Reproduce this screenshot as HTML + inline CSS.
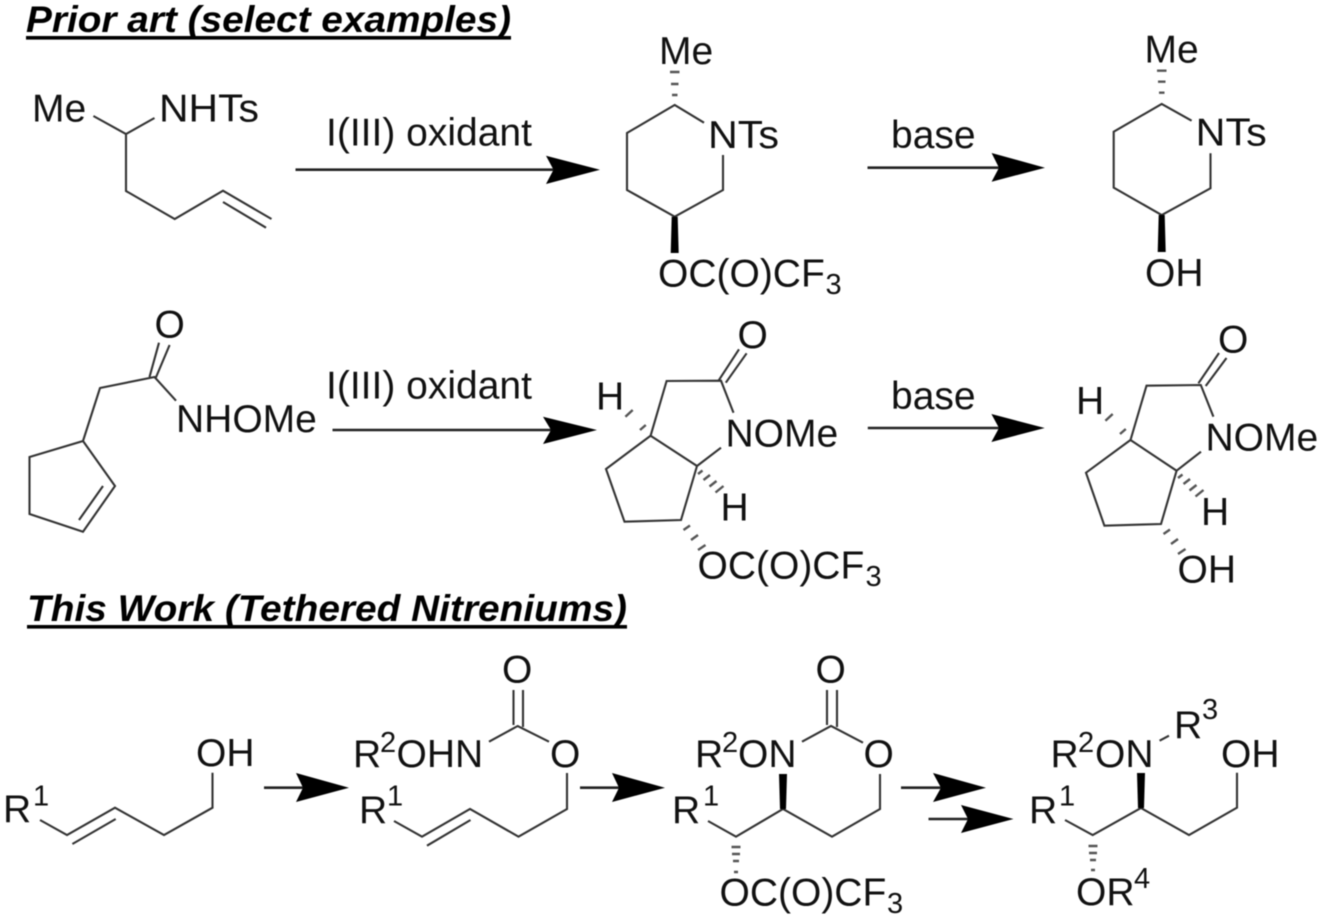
<!DOCTYPE html>
<html><head><meta charset="utf-8"><style>
html,body{margin:0;padding:0;background:#fff}
svg{display:block;filter:blur(.45px)}
text{font-family:"Liberation Sans",sans-serif;font-size:39px;fill:#111}
.h{font-weight:bold;font-style:italic;font-size:37.5px;fill:#000}
.s{font-size:29px}
path{fill:none;stroke:#333;stroke-width:2.1;stroke-linecap:butt;stroke-linejoin:miter}
.a{stroke:#222;stroke-width:2.6}
.t{fill:#000;stroke:none}
.d{stroke:#555;stroke-width:2.4}
</style></head><body>
<svg width="1320" height="921" viewBox="0 0 1320 921" xmlns="http://www.w3.org/2000/svg">
<!-- headings -->
<text class="h" x="26" y="32" textLength="485" lengthAdjust="spacingAndGlyphs">Prior art (select examples)</text>
<rect x="26" y="36" width="485" height="3.6" fill="#000"/>
<text class="h" x="27" y="621" textLength="600" lengthAdjust="spacingAndGlyphs">This Work (Tethered Nitreniums)</text>
<rect x="27" y="625" width="600" height="3.6" fill="#000"/>

<!-- row 1 SM -->
<text x="32" y="121.7">Me</text><text x="159" y="121.7" textLength="100" lengthAdjust="spacingAndGlyphs">NHTs</text>
<path d="M93.4 116L126 134L154.5 118M126 134V191L174.7 219L223 190.7L271.500 219M223 202L266 227.700"/>
<!-- arrow 1 -->
<text x="326" y="145.7">I(III) oxidant</text>
<path class="a" d="M295.500 169.700H556"/><polygon class="t" points="600,169.700 546,155.700 553.500,169.700 546,184"/>
<!-- product 1 -->
<text x="659" y="64">Me</text>
<path class="d" d="M670 72h9.500M671 84h7.500M672 95h5.500"/>
<path d="M704 122.700L674.700 105L627 133V190L674.700 216.700L723 190V155"/>
<text x="708" y="148" textLength="71" lengthAdjust="spacingAndGlyphs">NTs</text>
<polygon class="t" points="671.700,216.700 677.700,216.700 678.700,253 670.700,253"/>
<text x="658" y="286.700">OC(O)CF</text><text class="s" x="825.500" y="294">3</text>
<!-- arrow 2 -->
<text x="891" y="148">base</text>
<path class="a" d="M867.500 167.700H1000"/><polygon class="t" points="1045,167.700 991.600,153 999,167.700 991.600,181.700"/>
<!-- product 2 -->
<text x="1144.500" y="62.700">Me</text>
<path class="d" d="M1157 70.700h9.500M1158 81.700h7.500M1159 92.700h5.500"/>
<path d="M1191.600 120.700L1161.700 104L1113.700 131.700V187.700L1161.700 215L1210.500 188.300V153.300"/>
<text x="1195.700" y="145.700" textLength="71" lengthAdjust="spacingAndGlyphs">NTs</text>
<polygon class="t" points="1158.700,215 1164.700,215 1165.700,252 1157.700,252"/>
<text x="1145" y="286">OH</text>

<!-- row 2 SM -->
<text x="154.500" y="337.300">O</text>
<path d="M149.500 377L159 342.700M155.700 378L169.600 345M100 388L154.500 377L176 400.700M154.500 377L100 388L83 441L29.500 457V514L83 531.700L115 486L83 441M79 520L103 486"/>
<text x="176" y="432">NHOMe</text>
<!-- arrow -->
<text x="326" y="398.700">I(III) oxidant</text>
<path class="a" d="M332.500 430H555"/><polygon class="t" points="597,430 543,416.700 551,430 543,444"/>
<!-- product bicycle -->
<text x="737.500" y="348">O</text>
<path d="M718.500 380.700L739 349.300M725.800 382.700L746.600 353.300M733.500 412.700L721 380.700L666.600 381L650.600 435.700L606 469L624.500 521.700L681 520L697 466L650.600 435.700M697 466L721 447.700"/>
<text x="725.500" y="446.700">NOMe</text>
<text x="596" y="409.300">H</text>
<text x="720.500" y="520.700">H</text>
<path class="d" d="M640 430l5.800-5M625.400 416.700l7.300-6.700M698 474l4.500-3.500M703.500 480l6.500-5M709.500 486.500l7-5.500M715.500 492.500l8-6.500M683.500 530l6.500-4.500M691 540l7-5M698 550l7.500-5"/>
<text x="697.500" y="578.300">OC(O)CF</text><text class="s" x="865.500" y="586">3</text>
<!-- arrow -->
<text x="891" y="409">base</text>
<path class="a" d="M867.800 428H1000"/><polygon class="t" points="1044.700,428 991.400,414 999,428 991.400,442"/>
<!-- product bicycle 2 -->
<text x="1218" y="352.300">O</text>
<path d="M1198.400 383.300L1219 353M1205.700 386L1226.500 358M1213.400 416.700L1200.800 385L1146.500 385.700L1130.500 440L1086 472.700L1104.400 525.700L1161 524L1176.600 470.700L1130.500 440M1176.600 470.700L1201 451.700"/>
<text x="1205.500" y="450.700">NOMe</text>
<text x="1076" y="414">H</text>
<text x="1201" y="525">H</text>
<path class="d" d="M1120 434l5.800-5M1105.400 420.700l7.300-6.700M1178 478l4.500-3.500M1183.500 484l6.500-5M1189.500 490.500l7-5.500M1195.500 496.500l8-6.500M1163.500 534l6.500-4.500M1171 544l7-5M1178 554l7.500-5"/>
<text x="1177.500" y="582.700">OH</text>

<!-- row 3: SM -->
<text x="3" y="822">R</text><text class="s" x="33" y="805.700">1</text>
<text x="196" y="766">OH</text>
<path d="M40 820L67 835L115 807.700L164 835L212.500 807.700V772.700M72.400 844L115.700 819"/>
<path class="a" d="M264 787.700H305"/><polygon class="t" points="349,787.700 296,773 303,787.700 296,802"/>
<!-- carbamate -->
<text x="353" y="767">R</text><text class="s" x="380" y="752">2</text><text x="396.500" y="767">OHN</text>
<text x="502" y="682.700">O</text><text x="550" y="767">O</text>
<path d="M513.500 690V725M523 690V727M489 741.700L517.700 726L549 741.700M567 773V809L518.500 836.700L470 809L422 836.700L394 821M427 845.700L470.500 820"/>
<text x="359" y="823">R</text><text class="s" x="387" y="805.700">1</text>
<path class="a" d="M580 787.700H620"/><polygon class="t" points="665,787.700 612,773 619,787.700 612,802"/>
<!-- oxazinanone -->
<text x="695" y="767">R</text><text class="s" x="722" y="752">2</text><text x="738" y="767">ON</text>
<text x="815.500" y="682.700">O</text><text x="863.500" y="767">O</text>
<path d="M827 690V725M837 690V727M802 741.700L831 726L863 742.700M880 774V809L832 836.700L783 809L736 836.700L708 821"/>
<polygon class="t" points="780,809 786,809 787,774 779,774"/>
<text x="672" y="823">R</text><text class="s" x="703" y="805.700">1</text>
<path class="d" d="M731.500 847h9M732 854h8M733 861h6M734 872h4"/>
<text x="719.500" y="905.700">OC(O)CF</text><text class="s" x="887" y="913">3</text>
<!-- double arrows -->
<path class="a" d="M901 787.700H942"/><polygon class="t" points="986,787.700 933,773 941,787.700 933,802"/>
<path class="a" d="M928.500 819H970"/><polygon class="t" points="1013.500,819 961,805 968,819 961,833"/>
<!-- product -->
<text x="1050.500" y="767">R</text><text class="s" x="1078" y="752">2</text><text x="1095" y="767">ON</text>
<text x="1174" y="738">R</text><text class="s" x="1202" y="719">3</text>
<path d="M1159.600 740.700L1169 735.700M1237 772.700V807.700L1189 835L1141 808L1092.700 835L1065 820"/>
<text x="1221" y="767">OH</text>
<polygon class="t" points="1138,808 1144,808 1145,773 1137,773"/>
<text x="1029" y="823">R</text><text class="s" x="1059" y="805.700">1</text>
<path class="d" d="M1088.500 846h9M1089 853h8M1090 860h6M1091 870h4"/>
<text x="1076" y="905">OR</text><text class="s" x="1134" y="888">4</text>
</svg>
</body></html>
